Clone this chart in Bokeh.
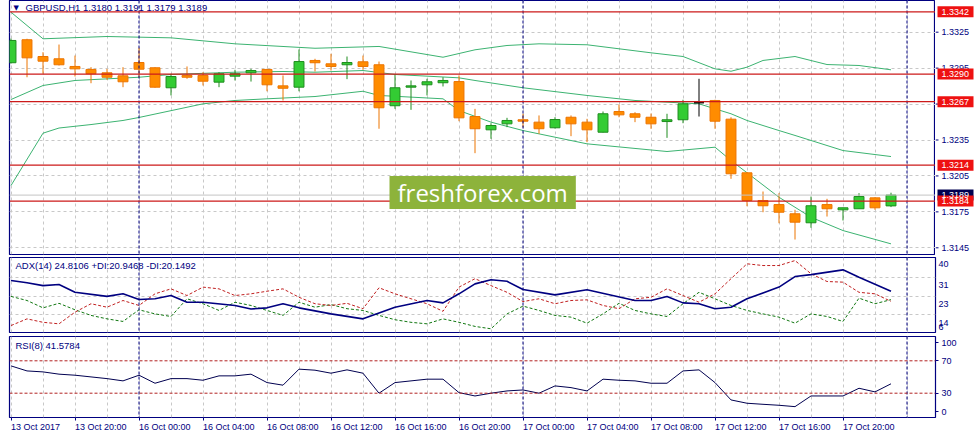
from bokeh.plotting import figure
from bokeh.layouts import column, row
from bokeh.models import Range1d, FixedTicker, Span, Label, ColumnDataSource
from bokeh.core.properties import value
from bokeh.embed import file_html
from bokeh.resources import INLINE

# GBPUSD H1, 13 Oct 16:00 .. 17 Oct 23:00 (bar index 0..55)
bar_open = [1.32995, 1.33187, 1.33047, 1.33028, 1.32964, 1.32939, 1.32911, 1.32886, 1.32997, 1.32953,
            1.32786, 1.32889, 1.32889, 1.32833, 1.32883, 1.32911, 1.32939, 1.32802, 1.32791, 1.33014,
            1.32986, 1.32978, 1.33003, 1.32978, 1.32636, 1.32791, 1.32811, 1.32828, 1.32838, 1.32546,
            1.32435, 1.32485, 1.32519, 1.32499, 1.32452, 1.32540, 1.32499, 1.32415, 1.32588, 1.32569,
            1.32540, 1.32504, 1.32519, 1.32661, 1.32680, 1.32524, 1.32076, 1.31845, 1.31811, 1.31734,
            1.31659, 1.31811, 1.31767, 1.31776, 1.31867, 1.31800]
bar_high = [1.33197, 1.33195, 1.33083, 1.33147, 1.33055, 1.32958, 1.32944, 1.32958, 1.33120, 1.32958,
            1.32903, 1.32964, 1.32916, 1.32916, 1.32936, 1.32944, 1.32944, 1.32889, 1.33106, 1.33028,
            1.33070, 1.33047, 1.33055, 1.33005, 1.32897, 1.32847, 1.32861, 1.32874, 1.32889, 1.32610,
            1.32490, 1.32535, 1.32569, 1.32555, 1.32540, 1.32555, 1.32527, 1.32588, 1.32646, 1.32582,
            1.32571, 1.32569, 1.32686, 1.32861, 1.32686, 1.32540, 1.32081, 1.31920, 1.31906, 1.31767,
            1.31878, 1.31859, 1.31784, 1.31906, 1.31872, 1.31910]
bar_low = [1.32989, 1.32874, 1.32903, 1.32972, 1.32880, 1.32824, 1.32853, 1.32791, 1.32874, 1.32786,
           1.32722, 1.32861, 1.32805, 1.32791, 1.32847, 1.32838, 1.32757, 1.32680, 1.32757, 1.32922,
           1.32930, 1.32858, 1.32936, 1.32444, 1.32610, 1.32602, 1.32722, 1.32797, 1.32507, 1.32240,
           1.32360, 1.32457, 1.32457, 1.32402, 1.32446, 1.32382, 1.32332, 1.32413, 1.32540, 1.32499,
           1.32444, 1.32368, 1.32490, 1.32546, 1.32444, 1.32026, 1.31797, 1.31747, 1.31655, 1.31519,
           1.31617, 1.31711, 1.31678, 1.31776, 1.31767, 1.31790]
bar_close = [1.33181, 1.33036, 1.33008, 1.32978, 1.32944, 1.32903, 1.32874, 1.32836, 1.32941, 1.32791,
             1.32880, 1.32874, 1.32841, 1.32903, 1.32903, 1.32930, 1.32811, 1.32782, 1.33005, 1.32995,
             1.32964, 1.32997, 1.32964, 1.32619, 1.32786, 1.32802, 1.32836, 1.32847, 1.32535, 1.32444,
             1.32471, 1.32513, 1.32507, 1.32444, 1.32521, 1.32485, 1.32435, 1.32569, 1.32560, 1.32540,
             1.32485, 1.32519, 1.32652, 1.32661, 1.32507, 1.32068, 1.31845, 1.31801, 1.31747, 1.31664,
             1.31801, 1.31776, 1.31784, 1.31878, 1.31784, 1.31890]

# bollinger bands, read at the bends of the lines
bb_up_i = [0, 2, 6, 10, 14, 19, 23, 27, 29, 31, 33, 36, 40, 42, 44, 45, 46, 47, 49, 51, 53, 55]
bb_up = [1.33417, 1.33195, 1.33214, 1.33203, 1.33153, 1.33116, 1.33131, 1.33041, 1.33103, 1.33139,
         1.33153, 1.33145, 1.33078, 1.33047, 1.32944, 1.32924, 1.32958, 1.33014, 1.33047, 1.32980,
         1.32972, 1.32936]
bb_mid_i = [0, 2, 4, 8, 10, 14, 17, 19, 22, 24, 28, 29, 32, 36, 39, 43, 45, 46, 48, 49, 52, 55]
bb_mid = [1.32688, 1.32805, 1.32847, 1.32874, 1.32897, 1.32916, 1.32922, 1.32916, 1.32930, 1.32897,
          1.32869, 1.32847, 1.32786, 1.32722, 1.32680, 1.32652, 1.32569, 1.32513, 1.32429, 1.32388,
          1.32262, 1.32212]
bb_low_i = [0, 2, 3, 5, 7, 8, 12, 14, 16, 19, 22, 23, 27, 28, 30, 32, 36, 41, 44, 45, 48, 50, 52, 55]
bb_low = [1.31970, 1.32407, 1.32450, 1.32479, 1.32513, 1.32538, 1.32652, 1.32680, 1.32694, 1.32713,
          1.32757, 1.32722, 1.32694, 1.32596, 1.32499, 1.32429, 1.32318, 1.32254, 1.32290, 1.32179,
          1.31872, 1.31705, 1.31594, 1.31483]

levels = [1.3342, 1.3290, 1.3267, 1.3214, 1.3184]
bid = 1.3189
price_ticks = [1.3145, 1.3175, 1.3205, 1.3235, 1.3265, 1.3295, 1.3325]

adx_i = [0, 1, 2, 3, 4, 6, 7, 8, 9, 10, 11, 12, 14, 15, 16, 17, 18, 20, 22, 24, 26, 27, 28, 29, 30,
         31, 32, 34, 36, 39, 40, 41, 42, 43, 44, 45, 46, 48, 49, 50, 52, 53, 55]
adx = [29.8, 28.7, 27.4, 27.9, 24.3, 22.4, 23.6, 21.0, 21.3, 22.8, 19.7, 19.7, 18.2, 16.6, 17.1, 19.0,
       17.1, 14.3, 12.0, 17.4, 20.5, 19.4, 23.6, 28.2, 30.1, 29.4, 25.6, 23.1, 25.5, 20.5, 20.5, 22.4,
       19.4, 19.0, 16.7, 17.4, 21.3, 26.7, 31.6, 32.5, 34.7, 31.3, 24.8]
plus_di = [22.4, 20.5, 17.1, 19.2, 16.2, 13.6, 12.0, 10.8, 16.2, 14.3, 13.1, 21.3, 19.0, 15.9, 19.7,
           18.2, 15.9, 13.6, 19.7, 17.4, 18.6, 16.7, 15.9, 13.6, 11.6, 10.4, 9.7, 12.0, 10.4, 8.5,
           7.4, 14.3, 17.9, 15.9, 13.6, 12.8, 10.0, 14.3, 19.2, 15.9, 14.3, 13.1, 19.0, 24.3, 21.3,
           18.2, 15.9, 14.3, 12.8, 10.0, 14.3, 13.1, 10.8, 21.6, 19.0, 20.9]
minus_di = [8.9, 12.0, 10.4, 9.7, 15.1, 19.0, 17.4, 20.5, 18.2, 23.6, 25.9, 22.8, 26.7, 25.9, 22.8,
            23.6, 24.8, 25.9, 22.0, 19.0, 18.2, 19.2, 16.7, 26.4, 23.6, 21.3, 19.0, 15.5, 26.7, 30.6,
            27.4, 24.3, 20.0, 21.3, 19.0, 20.5, 20.8, 18.2, 16.7, 21.3, 22.0, 25.9, 22.8, 19.7, 23.6,
            30.6, 37.5, 36.7, 36.7, 39.0, 32.9, 29.3, 29.0, 24.3, 23.6, 20.1]

rsi_i = [0, 1, 2, 3, 4, 6, 7, 8, 9, 10, 11, 12, 13, 14, 15, 16, 17, 18, 19, 20, 21, 22, 23, 24, 25,
         26, 27, 28, 29, 30, 31, 32, 33, 34, 35, 36, 37, 38, 39, 40, 41, 42, 43, 44, 45, 46, 47, 48,
         49, 50, 51, 52, 53, 54, 55]
rsi = [63.7, 57.5, 56.3, 53.5, 52.2, 48.0, 45.2, 52.2, 42.3, 48.0, 48.0, 46.0, 51.4, 51.4, 53.5, 43.1,
       39.9, 59.7, 58.4, 54.7, 58.8, 54.7, 30.0, 43.1, 45.2, 47.3, 47.3, 30.7, 26.6, 30.0, 32.8, 34.0,
       30.0, 39.0, 36.9, 32.8, 47.3, 46.0, 45.2, 42.3, 42.3, 57.5, 58.8, 43.1, 21.7, 17.6, 16.3, 15.1,
       13.4, 26.6, 26.6, 26.6, 36.1, 31.6, 41.6]

time_tick_bars = [0, 4, 8, 12, 16, 20, 24, 28, 32, 36, 40, 44, 48, 52]
time_tick_labels = ["13 Oct 2017", "13 Oct 20:00", "16 Oct 00:00", "16 Oct 04:00", "16 Oct 08:00",
                    "16 Oct 12:00", "16 Oct 16:00", "16 Oct 20:00", "17 Oct 00:00", "17 Oct 04:00",
                    "17 Oct 08:00", "17 Oct 12:00", "17 Oct 16:00", "17 Oct 20:00"]
day_separators = [8, 32, 56]

NAVY = "#000080"
GRID = "#C8C8C8"
LEVEL_RED = "#CC1A1A"
BOX_RED = "#EE1111"
BB_GREEN = "#3CB371"
FONT = "Liberation Sans"

# page geometry (pixels): bar 0 sits at x=10.5, 16px per bar
def px_x(px):
    return (px - 10.5) / 16.0

def px_price(py):
    return 1.3325 - (py - 31.7) / 11978.0

def px_adx(py):
    return 40.42 - (py - 257) / 2.159

def px_rsi(py):
    return 100 - (py - 336) / 0.81

x_range = Range1d(px_x(9), px_x(935))


def panel(width, height, y_range, top, bottom, right, x_axis=False, y_axis=True):
    p = figure(width=width, height=height, x_range=x_range, y_range=y_range,
               output_backend="svg", toolbar_location=None,
               x_axis_location="below" if x_axis else None,
               y_axis_location="right" if y_axis else None,
               min_border_left=9, min_border_right=right, min_border_top=top, min_border_bottom=bottom)
    p.outline_line_color = NAVY
    p.outline_line_width = 1.2
    p.xgrid.ticker = FixedTicker(ticks=list(range(0, 58, 2)))
    p.grid.grid_line_color = GRID
    p.grid.grid_line_dash = "3 3"
    if y_axis:
        p.yaxis.axis_line_color = None
        p.yaxis.minor_tick_line_color = None
        p.yaxis.major_tick_line_color = NAVY
        p.yaxis.major_tick_in = 0
        p.yaxis.major_tick_out = 3
        p.yaxis.major_label_standoff = 3
        p.yaxis.major_label_text_font = FONT
        p.yaxis.major_label_text_font_size = "9px"
        p.yaxis.major_label_text_color = NAVY
    for s in day_separators:
        p.add_layout(Span(location=s, dimension="height", line_color=NAVY,
                          line_dash="3 2", line_width=1))
    return p


def title(p, x, y, text):
    p.add_layout(Label(x=x, y=y, text=text, text_font=FONT, text_font_size="9.5px",
                       text_color=NAVY, text_baseline="middle", text_align="left"))


# ---------- price panel ----------
price_range = Range1d(px_price(254), px_price(0))
main = panel(935, 255, price_range, 0, 1, 0, y_axis=False)
main.ygrid.ticker = FixedTicker(ticks=price_ticks)

main.add_layout(Span(location=bid, dimension="width", line_color="#C4C4C4", line_width=1))
for lv in levels:
    main.add_layout(Span(location=lv, dimension="width", line_color=LEVEL_RED, line_width=1.2))

main.add_layout(Label(x=px_x(389), y=px_price(192), text="freshforex.com", text_font="Open Sans",
                      text_font_size="24px", text_color="white", text_baseline="middle",
                      background_fill_color="#8DB33B", padding=(8, 0)))

for iv, yv in ((bb_up_i, bb_up), (bb_mid_i, bb_mid), (bb_low_i, bb_low)):
    main.line(iv, yv, line_color=BB_GREEN, line_width=1)

fill, edge = [], []
for o, c in zip(bar_open, bar_close):
    if c > o:
        fill.append("#33CC33"); edge.append("#1E8C1E")
    elif c < o:
        fill.append("#FF8C00"); edge.append("#EC7400")
    else:
        fill.append("black"); edge.append("black")
src = ColumnDataSource(dict(
    x=list(range(len(bar_open))), high=bar_high, low=bar_low,
    top=[max(o, c) for o, c in zip(bar_open, bar_close)],
    bottom=[min(o, c) for o, c in zip(bar_open, bar_close)],
    fill=fill, edge=edge))
main.segment(x0="x", y0="low", x1="x", y1="high", source=src, line_color="edge", line_width=1)
main.vbar(x="x", width=0.62, top="top", bottom="bottom", source=src,
          fill_color="fill", line_color="edge", line_width=1)

main.add_layout(Label(x=px_x(13), y=px_price(7), text="\u25bc", text_font="DejaVu Sans",
                      text_font_size="7px", text_color=NAVY, text_baseline="middle"))
title(main, px_x(25), px_price(7), "GBPUSD,H1  %.4f %.4f %.4f %.4f"
      % (bar_open[-1], bar_high[-1], bar_low[-1], bar_close[-1]))

# price scale strip right of the chart, sharing the price range (x in pixels 0..40)
scale = figure(width=40, height=255, x_range=Range1d(0, 40), y_range=price_range,
               output_backend="svg", toolbar_location=None,
               x_axis_location=None, y_axis_location=None,
               min_border_left=0, min_border_right=0, min_border_top=0, min_border_bottom=1)
scale.outline_line_color = None
scale.grid.visible = False
tick_src = ColumnDataSource(dict(y=price_ticks, label=["%.4f" % t for t in price_ticks]))
scale.segment(x0=0, y0="y", x1=3, y1="y", source=tick_src, line_color=NAVY, line_width=1)
scale.text(x=6, y="y", text="label", source=tick_src, text_font=value(FONT), text_font_size="9px",
           text_color=NAVY, text_baseline="middle", text_align="left")
box_src = ColumnDataSource(dict(
    y=[bid] + levels, label=["%.4f" % v for v in [bid] + levels],
    color=["#000050"] + [BOX_RED] * len(levels)))
scale.rect(x=20, y="y", width=36, height=11, height_units="screen", source=box_src,
           fill_color="color", line_color=None)
scale.text(x=6, y="y", text="label", source=box_src, text_font=value(FONT), text_font_size="9px",
           text_color="white", text_baseline="middle", text_align="left")

# ---------- ADX panel ----------
adx_p = panel(975, 79, Range1d(px_adx(332), px_adx(257)), 2, 2, 40)
adx_p.yaxis.ticker = FixedTicker(ticks=[37.5, 27.8, 19.1, 10.1, 8.1])
adx_p.yaxis.major_label_overrides = {37.5: "40", 27.8: "31", 19.1: "23", 10.1: "14", 8.1: "6"}
adx_p.yaxis.major_tick_out = 0
adx_p.ygrid.ticker = FixedTicker(ticks=[31.0, 22.5, 14.0])
adx_p.line(list(range(len(plus_di))), plus_di, line_color="#117711", line_dash="3 2", line_width=1)
adx_p.line(list(range(len(minus_di))), minus_di, line_color="#C02020", line_dash="3 2", line_width=1)
adx_p.line(adx_i, adx, line_color=NAVY, line_width=1.6)
title(adx_p, px_x(15), px_adx(265), "ADX(14) %.4f +DI:%.4f -DI:%.4f" % (24.8106, 20.9468, 20.1492))

# ---------- RSI panel ----------
rsi_p = panel(975, 111, Range1d(0, 100), 2, 28, 40, x_axis=True)
rsi_p.yaxis.ticker = FixedTicker(ticks=[92, 70, 30, 7])
rsi_p.yaxis.major_label_overrides = {92: "100", 7: "0"}
rsi_p.ygrid.grid_line_color = None
for lv in (70, 30):
    rsi_p.add_layout(Span(location=lv, dimension="width", line_color="#B22222",
                          line_dash="3 2", line_width=1))
rsi_p.line(rsi_i, rsi, line_color="#000050", line_width=1)
title(rsi_p, px_x(15), px_rsi(345), "RSI(8) %.4f" % 41.5784)

ax = rsi_p.xaxis[0]
ax.ticker = FixedTicker(ticks=time_tick_bars)
ax.major_label_overrides = dict(zip(time_tick_bars, time_tick_labels))
ax.axis_line_color = None
ax.minor_tick_line_color = None
ax.major_tick_line_color = NAVY
ax.major_tick_in = 0
ax.major_tick_out = 3
ax.major_label_standoff = 6
ax.major_label_orientation = -0.0001
ax.major_label_text_font = FONT
ax.major_label_text_font_size = "9px"
ax.major_label_text_color = NAVY

layout = column(row(main, scale, spacing=0), adx_p, rsi_p, spacing=0)
open("out.html", "w").write(file_html(layout, INLINE))
